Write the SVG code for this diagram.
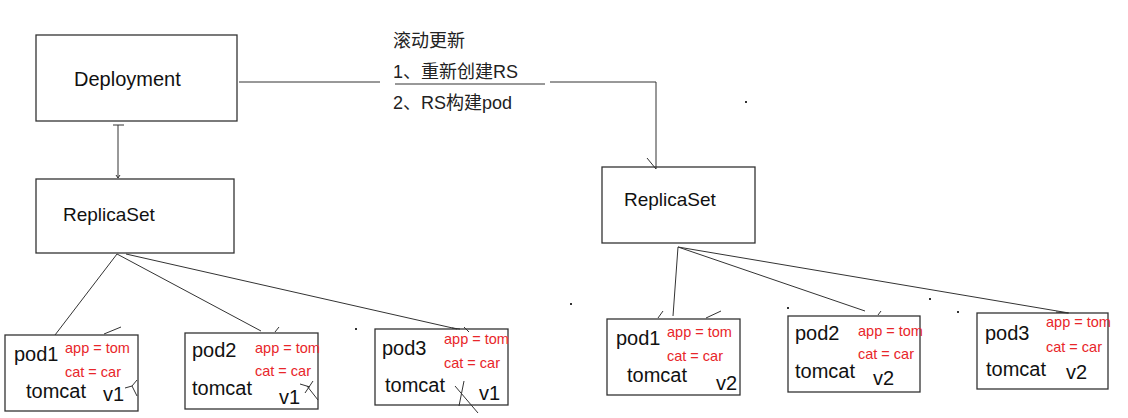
<svg xmlns="http://www.w3.org/2000/svg" width="1128" height="418" viewBox="0 0 1128 418">
<style>
.box{fill:#fff;stroke:#333;stroke-width:1.3}
.t{font-family:"Liberation Sans",Arial,sans-serif;fill:#111}
.big{font-size:20px}
.mid{font-size:19px}
.cn{font-family:"Liberation Sans","Noto Sans CJK SC",sans-serif;font-size:18px;fill:#222}
.lab{font-family:"Liberation Sans",Arial,sans-serif;font-size:14.5px;fill:#e8262a}
.c{stroke:#333;stroke-width:1;fill:none}
.dot{fill:#333}
</style>
<rect width="1128" height="418" fill="#fff"/>
<g id="rolling-update-text">
  <text class="cn" x="393" y="47">滚动更新</text>
  <text class="cn" x="393" y="78">1、重新创建RS</text>
  <text class="cn" x="393" y="109">2、RS构建pod</text>
</g>
<g id="deployment">
  <rect class="box" x="36" y="35" width="201" height="86"/>
  <text class="t big" x="74" y="86">Deployment</text>
</g>
<g id="replicaset-old">
  <rect class="box" x="36" y="179" width="198" height="74"/>
  <text class="t mid" x="63" y="221">ReplicaSet</text>
</g>
<g id="replicaset-new">
  <rect class="box" x="602" y="167" width="153" height="76"/>
  <text class="t mid" x="624" y="206">ReplicaSet</text>
</g>
<g id="pod1-v1">
  <rect class="box" x="5" y="335" width="133" height="76"/>
  <text class="t big" x="14" y="361">pod1</text>
  <text class="lab" x="65" y="353">app = tom</text>
  <text class="lab" x="65" y="377">cat = car</text>
  <text class="t big" x="26" y="398">tomcat</text>
  <text class="t big" x="103" y="401">v1</text>
</g>
<g id="pod2-v1">
  <rect class="box" x="185" y="333" width="133" height="76"/>
  <text class="t big" x="192" y="357">pod2</text>
  <text class="lab" x="255" y="353">app = tom</text>
  <text class="lab" x="255" y="376">cat = car</text>
  <text class="t big" x="192" y="395">tomcat</text>
  <text class="t big" x="279" y="404">v1</text>
</g>
<g id="pod3-v1">
  <rect class="box" x="375" y="329" width="133" height="76"/>
  <text class="t big" x="382" y="355">pod3</text>
  <text class="lab" x="444" y="344">app = tom</text>
  <text class="lab" x="444" y="368">cat = car</text>
  <text class="t big" x="385" y="392">tomcat</text>
  <text class="t big" x="479" y="400">v1</text>
</g>
<g id="pod1-v2">
  <rect class="box" x="607" y="319" width="133" height="76"/>
  <text class="t big" x="616" y="345">pod1</text>
  <text class="lab" x="667" y="337">app = tom</text>
  <text class="lab" x="667" y="361">cat = car</text>
  <text class="t big" x="627" y="382">tomcat</text>
  <text class="t big" x="716" y="390">v2</text>
</g>
<g id="pod2-v2">
  <rect class="box" x="788" y="316" width="132" height="76"/>
  <text class="t big" x="795" y="340">pod2</text>
  <text class="lab" x="858" y="336">app = tom</text>
  <text class="lab" x="858" y="359">cat = car</text>
  <text class="t big" x="795" y="378">tomcat</text>
  <text class="t big" x="873" y="385">v2</text>
</g>
<g id="pod3-v2">
  <rect class="box" x="977" y="313" width="131" height="76"/>
  <text class="t big" x="985" y="340">pod3</text>
  <text class="lab" x="1046" y="327">app = tom</text>
  <text class="lab" x="1046" y="352">cat = car</text>
  <text class="t big" x="986" y="376">tomcat</text>
  <text class="t big" x="1066" y="379">v2</text>
</g>
<g id="connectors">
  <line class="c" x1="118" y1="125" x2="118" y2="178"/>
  <line class="c" x1="113" y1="125" x2="124" y2="125" stroke-width="1.4"/>
  <path class="c" d="M116 175 L118 178 L120 175"/>
  <line class="c" x1="239" y1="82" x2="380" y2="82"/>
  <line class="c" x1="395" y1="84" x2="545" y2="84"/>
  <line class="c" x1="550" y1="82" x2="656" y2="82"/>
  <line class="c" x1="656" y1="82" x2="656" y2="169"/>
  <line class="c" x1="647" y1="158" x2="656" y2="169"/>
  <line class="c" x1="117" y1="254" x2="55" y2="335"/>
  <line class="c" x1="117" y1="254" x2="261" y2="331"/>
  <line class="c" x1="126" y1="254" x2="457" y2="329"/>
  <line class="c" x1="104" y1="334" x2="121" y2="327"/>
  <line class="c" x1="275" y1="332" x2="279" y2="327"/>
  <line class="c" x1="464" y1="327" x2="469" y2="332"/>
  <line class="c" x1="452" y1="328" x2="460" y2="329" stroke-width="2"/>
  <line class="c" x1="678" y1="247" x2="673" y2="316"/>
  <line class="c" x1="678" y1="247" x2="865" y2="311"/>
  <line class="c" x1="678" y1="247" x2="1069" y2="313"/>
  <line class="c" x1="658" y1="318" x2="663" y2="311"/>
  <line class="c" x1="706" y1="318" x2="721" y2="311"/>
  <line class="c" x1="878" y1="315" x2="881" y2="311"/>
  <line class="c" x1="1056" y1="312" x2="1068" y2="313" stroke-width="2.2"/>
  <path class="c" d="M125 388 L132 386 M137 380 L132 386 L137 396"/>
  <path class="c" d="M300 384 L310 387 M313 381 L305 393 M307 386 L318 400"/>
  <path class="c" d="M464 381 L459 406 M455 386 L478 413"/>
  <rect class="dot" x="570" y="303" width="2" height="2"/>
  <rect class="dot" x="745" y="101" width="2" height="2"/>
  <rect class="dot" x="355" y="328" width="2" height="2"/>
  <rect class="dot" x="787" y="307" width="2" height="2"/>
  <rect class="dot" x="929" y="298" width="2" height="2"/>
  <rect class="dot" x="957" y="311" width="2" height="2"/>
</g>
</svg>
